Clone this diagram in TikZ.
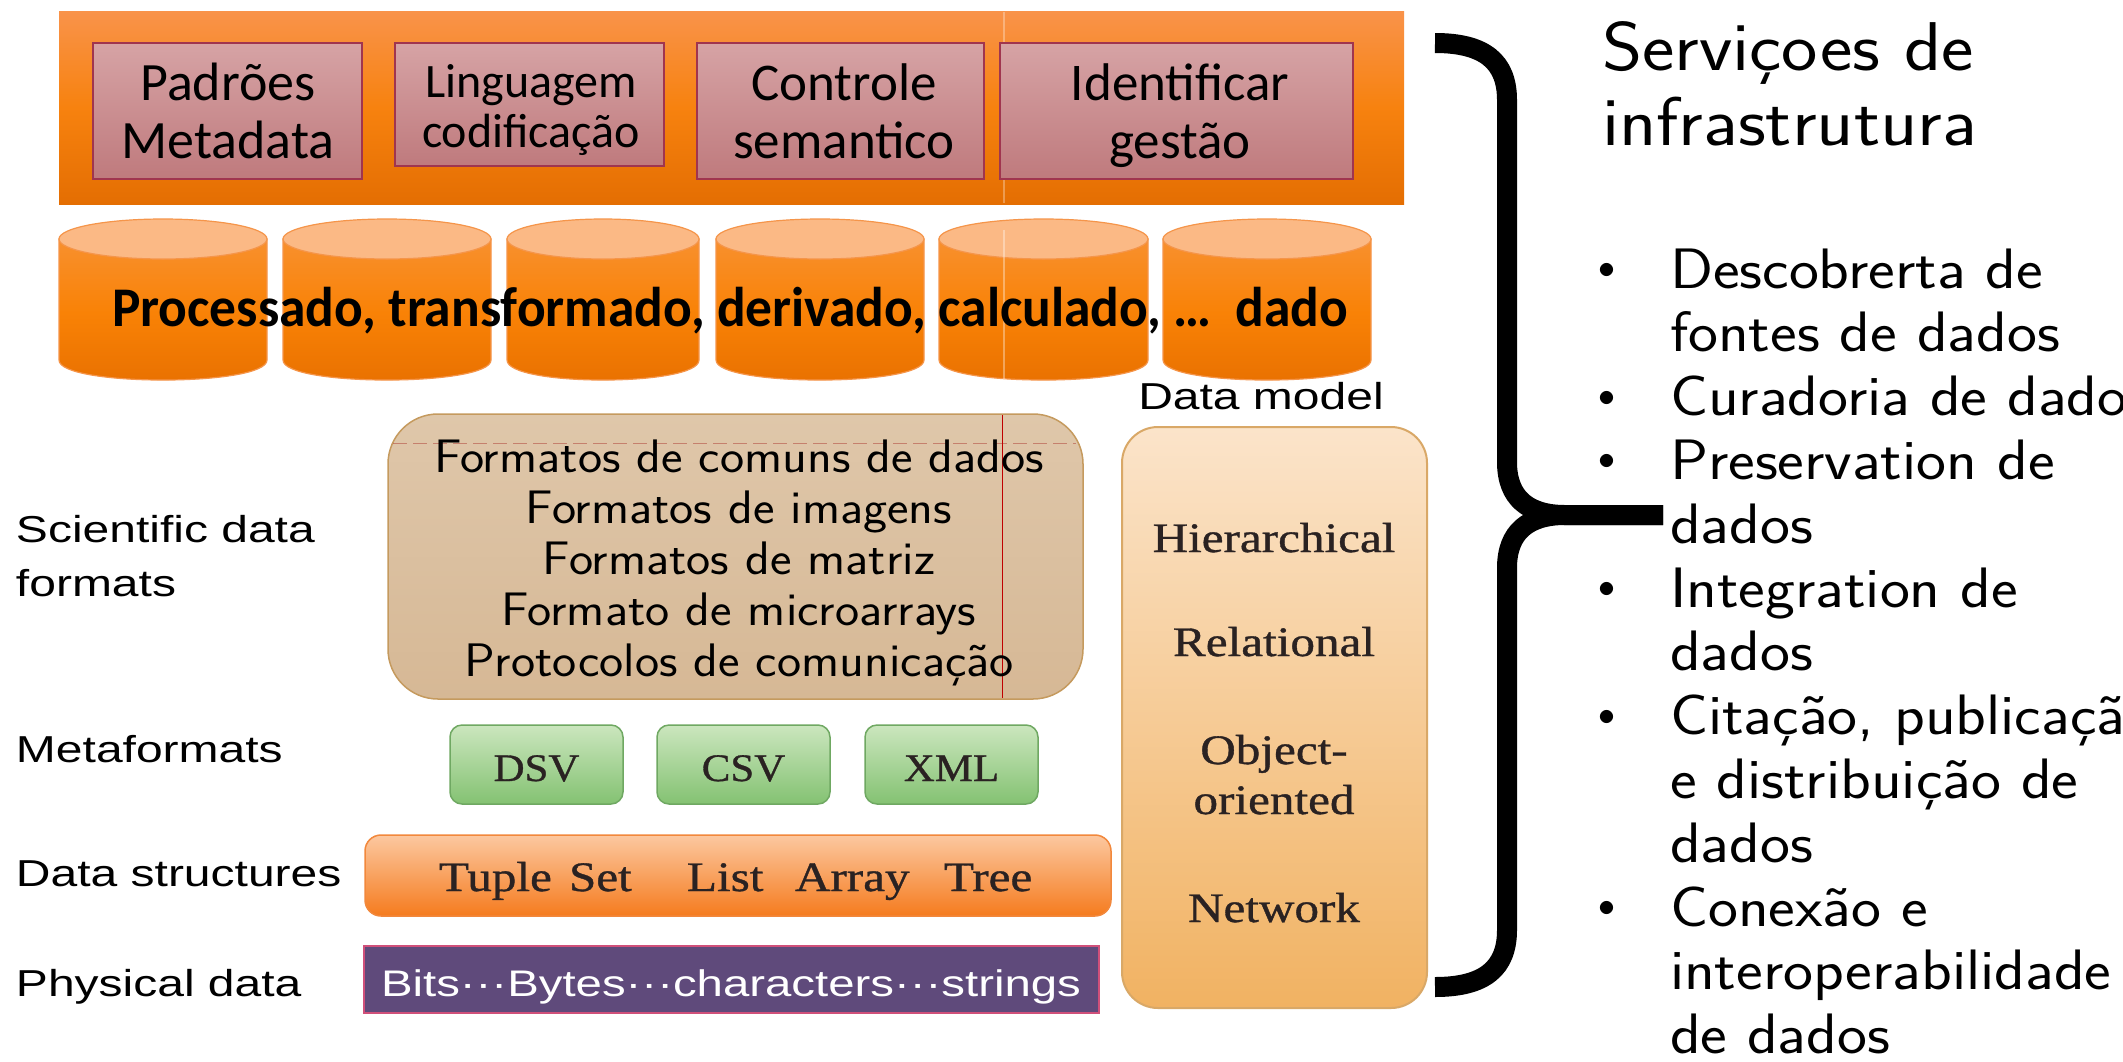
\documentclass[tikz,border=0pt]{standalone}
\usepackage{fontspec}
\usepackage{graphicx}
\newfontfamily\calib{Carlito}
\newfontfamily\arialf{Liberation Sans}
\newfontfamily\timesf{Liberation Serif}[FakeBold=0.8]
\newcommand\fsz[1]{\fontsize{#1}{#1}\selectfont}
\newcommand\sx[2]{\scalebox{#1}[1]{#2}}

\definecolor{bandA}{HTML}{F9934A}
\definecolor{bandB}{HTML}{F7820F}
\definecolor{bandC}{HTML}{E46E02}
\definecolor{pinkA}{HTML}{D6A3A5}
\definecolor{pinkB}{HTML}{BF7A7D}
\definecolor{pinkLine}{HTML}{A0354F}
\definecolor{cylA}{HTML}{F8902E}
\definecolor{cylB}{HTML}{F98206}
\definecolor{cylC}{HTML}{E87000}
\definecolor{cylTop}{HTML}{FBB985}
\definecolor{cylLine}{HTML}{F5954A}
\definecolor{tanA}{HTML}{DFC7AA}
\definecolor{tanB}{HTML}{D6B895}
\definecolor{tanLine}{HTML}{C59A5E}
\definecolor{dmA}{HTML}{FBE4CA}
\definecolor{dmB}{HTML}{F1B262}
\definecolor{dmLine}{HTML}{D9A867}
\definecolor{grA}{HTML}{CBE6BE}
\definecolor{grB}{HTML}{84C272}
\definecolor{grLine}{HTML}{6FA862}
\definecolor{obA}{HTML}{FCC8A0}
\definecolor{obB}{HTML}{F57B1E}
\definecolor{obLine}{HTML}{F2883C}
\definecolor{purp}{HTML}{5F4A7B}
\definecolor{purpLine}{HTML}{D0507A}
\definecolor{serifInk}{HTML}{2A2222}

\begin{document}
\begin{tikzpicture}[x=1pt,y=-1pt,
  txt/.style={inner sep=0pt,outer sep=0pt},
  boxnode/.style={inner sep=0pt,outer sep=0pt},
  bandbox/.style={boxnode,shade,top color=bandA,bottom color=bandC,middle color=bandB},
  pinkbox/.style={boxnode,draw=pinkLine,line width=1.5,shade,top color=pinkA,bottom color=pinkB},
  cylbody/.style={draw=cylLine,line width=1.2,shade,top color=cylA,bottom color=cylC,middle color=cylB},
  cyltop/.style={draw=cylLine,line width=1.2,fill=cylTop},
  scibox/.style={boxnode,draw=tanLine,line width=1.5,rounded corners=50,shade,top color=tanA,bottom color=tanB},
  dmbox/.style={boxnode,draw=dmLine,line width=2,rounded corners=36,shade,top color=dmA,bottom color=dmB},
  greenbox/.style={boxnode,draw=grLine,line width=1.5,rounded corners=12,shade,top color=grA,bottom color=grB},
  orangebar/.style={boxnode,draw=obLine,line width=1.5,rounded corners=16,shade,top color=obA,bottom color=obB},
  purplebar/.style={boxnode,draw=purpLine,line width=2,fill=purp},
  calibtext/.style={txt,anchor=base,font=\calib\fsz{#1}},
  sanstext/.style={txt,anchor=base,font=\sffamily\fsz{#1}},
  armlabel/.style={txt,anchor=base west,font=\arialf\fsz{37.5}},
  seriftext/.style={txt,anchor=base,text=serifInk,font=\timesf\fsz{#1}},
  bullettext/.style={txt,anchor=base west,font=\sffamily\fsz{57}},
  bulletmark/.style={txt,anchor=base,font=\fsz{10}},
  bracestroke/.style={line width=20,line cap=butt,line join=round}
]
\useasboundingbox (0,0) rectangle (2123,1061);
\fill[white] (0,0) rectangle (2123,1061);

% ---------- top band with the four service boxes ----------
\node[bandbox,minimum width=1345,minimum height=193] (band) at (731.5,107.5) {};
\draw[white,opacity=0.3,line width=1.5] (1004,12) -- (1004,203);

\node[pinkbox,minimum width=269,minimum height=136] (padroes) at (227.5,111) {};
\node[pinkbox,minimum width=269,minimum height=123] (linguagem) at (529.5,104.5) {};
\node[pinkbox,minimum width=287,minimum height=136] (controle) at (840.5,111) {};
\node[pinkbox,minimum width=353,minimum height=136] (identificar) at (1176.5,111) {};

\node[calibtext=54] (padroesA) at (228,100) {Padrões};
\node[calibtext=54] (padroesB) at (228,158) {Metadata};
\node[calibtext=48] (linguagemA) at (531,97) {Linguagem};
\node[calibtext=48] (linguagemB) at (531,147) {codificação};
\node[calibtext=53] (controleA) at (844,100) {Controle};
\node[calibtext=53] (controleB) at (844,158) {semantico};
\node[calibtext=53] (identificarA) at (1180,100) {Identificar};
\node[calibtext=53] (identificarB) at (1180,158) {gestão};

% ---------- row of data cylinders ----------
\foreach \a/\b in {59/267, 283/491, 507/699, 716/924, 939/1148, 1163/1371} {
  \path[cylbody] (\a,239) -- (\a,360) .. controls (\a,386.7) and (\b,386.7) .. (\b,360) -- (\b,239) -- cycle;
  \path[cyltop] ({(\a+\b)/2},239) ellipse [x radius={(\b-\a)/2}, y radius=20];
}
\draw[white,opacity=0.35,line width=1.5] (1004,230) -- (1004,379);
\node[txt,anchor=base west,font=\calib\bfseries\fsz{56}] (dado) at (112,326)
  {\sx{0.955}{Processado, transformado, derivado, calculado, …\ \ dado}};

% ---------- scientific data formats ----------
\node[scibox,minimum width=695,minimum height=285] (sci) at (735.5,556.5) {};
\draw[red!60!black,opacity=0.35,line width=1,dash pattern=on 14pt off 6pt] (393,443) -- (1076,443);
\draw[red!75!black,line width=1] (1002,415) -- (1002,698);
\node[sanstext=47] (fmtA) at (739,472) {\sx{1.09}{Formatos de comuns de dados}};
\node[sanstext=47] (fmtB) at (739,523) {\sx{1.09}{Formatos de imagens}};
\node[sanstext=47] (fmtC) at (739,574) {\sx{1.09}{Formatos de matriz}};
\node[sanstext=47] (fmtD) at (739,625) {\sx{1.09}{Formato de microarrays}};
\node[sanstext=47] (fmtE) at (739,676) {\sx{1.09}{Protocolos de comunicação}};

% ---------- data model column ----------
\node[txt,anchor=base,font=\arialf\fsz{37.5}] (dmlabel) at (1261,409) {\sx{1.28}{Data model}};
\node[dmbox,minimum width=305,minimum height=581] (dm) at (1274.5,717.5) {};
\node[seriftext=42] (hier) at (1274,552) {\sx{1.17}{Hierarchical}};
\node[seriftext=42] (rel) at (1274,656) {\sx{1.17}{Relational}};
\node[seriftext=42] (objA) at (1274,764) {\sx{1.17}{Object-}};
\node[seriftext=42] (objB) at (1274,814) {\sx{1.17}{oriented}};
\node[seriftext=42] (net) at (1274,922) {\sx{1.17}{Network}};

% ---------- metaformats ----------
\node[greenbox,minimum width=173,minimum height=79] (dsv) at (536.5,764.5) {};
\node[greenbox,minimum width=173,minimum height=79] (csv) at (743.5,764.5) {};
\node[greenbox,minimum width=173,minimum height=79] (xml) at (951.5,764.5) {};
\node[seriftext=39] (dsvT) at (536.5,781) {\sx{1.1}{DSV}};
\node[seriftext=39] (csvT) at (743.5,781) {\sx{1.1}{CSV}};
\node[seriftext=39] (xmlT) at (951.5,781) {\sx{1.1}{XML}};

% ---------- data structures ----------
\node[orangebar,minimum width=746,minimum height=81] (struct) at (738,875.5) {};
\node[seriftext=42,anchor=base west] (tuple) at (439,891) {\sx{1.17}{Tuple}};
\node[seriftext=42,anchor=base west] (set) at (569,891) {\sx{1.17}{Set}};
\node[seriftext=42,anchor=base west] (list) at (687,891) {\sx{1.17}{List}};
\node[seriftext=42,anchor=base west] (array) at (795,891) {\sx{1.17}{Array}};
\node[seriftext=42,anchor=base west] (tree) at (944,891) {\sx{1.17}{Tree}};

% ---------- physical data ----------
\node[purplebar,minimum width=735,minimum height=67] (phys) at (731.5,979.5) {};
\node[txt,anchor=base west,text=white,font=\arialf\fsz{37}] (physT) at (381,996)
  {\sx{1.28}{Bits···Bytes···characters···strings}};

% ---------- layer labels ----------
\node[armlabel] (labSciA) at (16,542) {\sx{1.28}{Scientific data}};
\node[armlabel] (labSciB) at (16,596) {\sx{1.28}{formats}};
\node[armlabel] (labMeta) at (16,762) {\sx{1.28}{Metaformats}};
\node[armlabel] (labStruct) at (16,886) {\sx{1.28}{Data structures}};
\node[armlabel] (labPhys) at (16,996) {\sx{1.28}{Physical data}};

% ---------- brace ----------
\draw[bracestroke] (1435,43) .. controls (1485,43) and (1507,62) .. (1507,100)
  -- (1507,462) .. controls (1507,498) and (1528,515) .. (1565,515) -- (1663,515);
\draw[bracestroke] (1663,515) -- (1565,515) .. controls (1528,515) and (1507,532) .. (1507,568)
  -- (1507,930) .. controls (1507,968) and (1485,987) .. (1435,987);

% ---------- infrastructure services ----------
\node[txt,anchor=base west,font=\sffamily\fsz{69}] (titleA) at (1602,70) {\sx{1.118}{Serviçoes de}};
\node[txt,anchor=base west,font=\sffamily\fsz{69}] (titleB) at (1602,145) {\sx{1.118}{infrastrutura}};

\foreach \k/\t/\b in {0/Descobrerta de/1, 1/fontes de dados/0, 2/Curadoria de dados/1,
    3/Preservation de/1, 4/dados/0, 5/Integration de/1, 6/dados/0,
    7/{Citação, publicação}/1, 8/e distribuição de/0, 9/dados/0,
    10/Conexão e/1, 11/interoperabilidade/0, 12/de dados/0} {
  \node[bullettext] (svc\k) at (1670,{288+63.8*\k}) {\sx{1.115}{\t}};
  \ifnum\b=1
    \node[bulletmark] (dot\k) at (1607,{278.5+63.8*\k}) {\scalebox{3.4}{$\bullet$}};
  \fi
}
\end{tikzpicture}
\end{document}
